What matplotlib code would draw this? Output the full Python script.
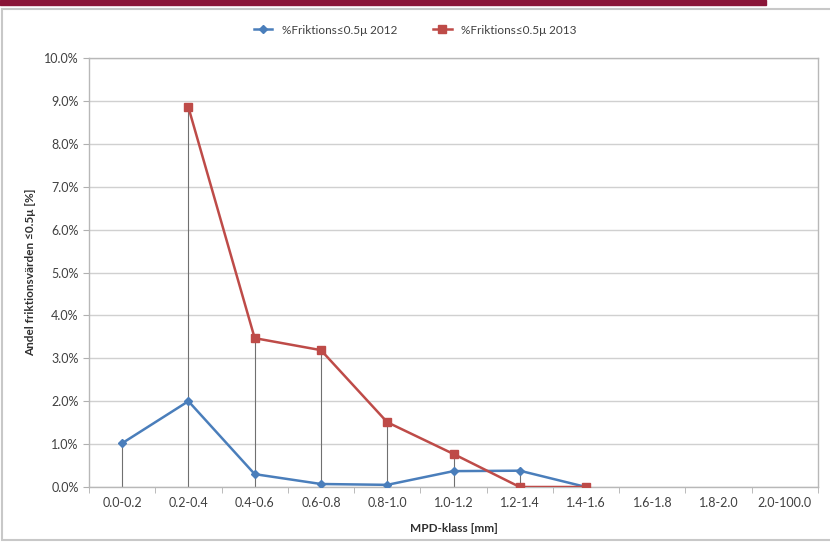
import numpy as np
import matplotlib.pyplot as plt
from matplotlib.patches import Rectangle
from matplotlib.ticker import PercentFormatter

plt.rcParams["font.family"] = ["Lato", "DejaVu Sans"]

klasser = ["0.0-0.2", "0.2-0.4", "0.4-0.6", "0.6-0.8", "0.8-1.0", "1.0-1.2",
           "1.2-1.4", "1.4-1.6", "1.6-1.8", "1.8-2.0", "2.0-100.0"]
andel_2012 = [1.02, 2.0, 0.30, 0.07, 0.05, 0.37, 0.38, 0.0, np.nan, np.nan, np.nan]
andel_2013 = [np.nan, 8.85, 3.47, 3.19, 1.51, 0.77, 0.0, 0.0, np.nan, np.nan, np.nan]

x = np.arange(len(klasser))
a12 = np.array(andel_2012)
a13 = np.array(andel_2013)

fig = plt.figure(figsize=(8.3, 5.42), dpi=100)

# rubrikband och diagramram
fig.patches.append(Rectangle((0, 1 - 5 / 542), 766 / 830, 5 / 542,
                             transform=fig.transFigure, color="#8a1538", zorder=-2))
fig.patches.append(Rectangle((2 / 830, 2 / 542), 830 / 830, 531 / 542,
                             transform=fig.transFigure, facecolor="white",
                             edgecolor="#c8c8c8", lw=1.5, zorder=-2))

ax = fig.add_axes([89 / 830, 1 - 487 / 542, 729 / 830, 429 / 542])

# fallinjer ner till x-axeln
topp = np.fmax(a12, a13)
for xi, t in zip(x, topp):
    if not np.isnan(t):
        ax.vlines(xi, 0, t, color="#707070", lw=0.8, zorder=1)

ax.plot(x, a12, color="#4a7ebb", lw=1.8, marker="D", ms=4,
        label="%Friktions≤0.5μ 2012", zorder=3)
ax.plot(x, a13, color="#be4b48", lw=1.8, marker="s", ms=6,
        label="%Friktions≤0.5μ 2013", zorder=3)

ax.set_xlim(-0.5, len(klasser) - 0.5)
ax.set_ylim(0, 10)
ax.set_yticks(np.arange(0, 10.01, 1))
ax.yaxis.set_major_formatter(PercentFormatter(decimals=1))
ax.set_xticks(x)
ax.set_xticklabels(klasser)
ax.set_xticks(np.arange(-0.5, len(klasser), 1), minor=True)
ax.tick_params(axis="x", which="major", length=0, pad=7, labelsize=9, colors="#404040")
ax.tick_params(axis="x", which="minor", length=4, color="#b0b0b0")
ax.tick_params(axis="y", length=4, color="#b0b0b0", labelsize=9, colors="#404040")
ax.tick_params(axis="x", labelcolor="#404040")
ax.grid(axis="y", color="#d0d0d0", lw=1.0)
ax.set_axisbelow(True)
for s in ax.spines.values():
    s.set_color("#b8b8b8")
    s.set_linewidth(1.0)

ax.set_xlabel("MPD-klass [mm]", fontsize=8.5, fontweight="bold", color="#303030", labelpad=10)
ax.set_ylabel("Andel friktionsvärden ≤0.5μ [%]", fontsize=8.5, fontweight="bold",
              color="#303030", labelpad=6)

fig.legend(loc="upper center", bbox_to_anchor=(0.5, 1 - 14 / 542), ncol=2, frameon=False,
           fontsize=8.5, handlelength=1.6, columnspacing=3, labelcolor="#404040")

fig.savefig("out.png", dpi=100)
